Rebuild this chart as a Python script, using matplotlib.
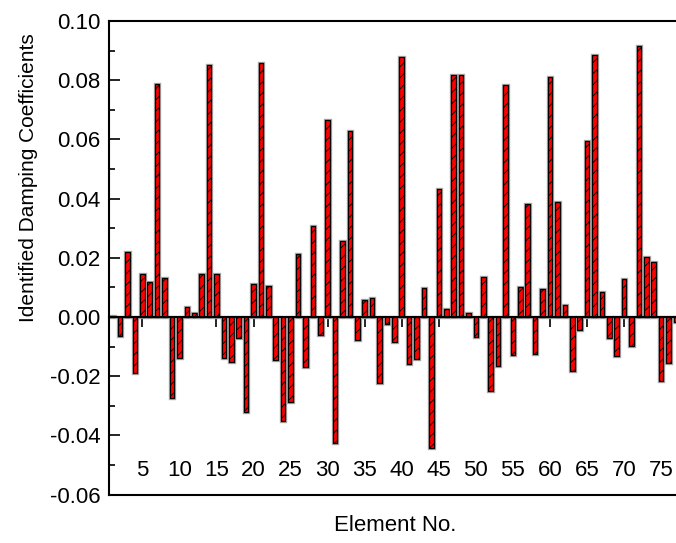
import numpy as np
import matplotlib
matplotlib.use("Agg")
from matplotlib import pyplot as plt
from matplotlib import patheffects as pe
from matplotlib.lines import Line2D
from matplotlib.ticker import MultipleLocator

plt.rcParams['font.family'] = ['Liberation Sans', 'DejaVu Sans']
plt.rcParams['hatch.linewidth'] = 0.6

# identified damping coefficient of each element
elements = np.arange(1, 78)
damping = [
    0.0004, -0.0063, 0.0219, -0.0190, 0.0146, 0.0119, 0.0787, 0.0131,
    -0.0273, -0.0137, 0.0034, 0.0015, 0.0146, 0.0850, 0.0144, -0.0140,
    -0.0151, -0.0070, -0.0320, 0.0110, 0.0858, 0.0106, -0.0145, -0.0352,
    -0.0286, 0.0212, -0.0168, 0.0309, -0.0061, 0.0666, -0.0427, 0.0258,
    0.0630, -0.0078, 0.0057, 0.0065, -0.0224, -0.0025, -0.0083, 0.0877,
    -0.0159, -0.0142, 0.0099, -0.0441, 0.0432, 0.0027, 0.0818, 0.0818,
    0.0012, -0.0068, 0.0136, -0.0249, -0.0166, 0.0785, -0.0130, 0.0103,
    0.0382, -0.0125, 0.0095, 0.0810, 0.0388, 0.0041, -0.0183, -0.0044,
    0.0596, 0.0884, 0.0083, -0.0070, -0.0132, 0.0127, -0.0097, 0.0917,
    0.0202, 0.0187, -0.0215, -0.0155, -0.0016,
]
x_ticks = [5, 10, 15, 20, 25, 30, 35, 40, 45, 50, 55, 60, 65, 70, 75]
y_ticks = [-0.06, -0.04, -0.02, 0.00, 0.02, 0.04, 0.06, 0.08, 0.10]

fig = plt.figure(figsize=(6.76, 5.43), dpi=100)
ax = fig.add_axes([0.1612, 0.0891, 0.8388, 0.8722])

bars = ax.bar(elements, damping, width=0.62, color='#ff0000',
              edgecolor='black', linewidth=0.9, hatch='///', zorder=2)
for b in bars:
    b.set_path_effects([pe.Stroke(linewidth=2.4, foreground='#a8a8a8'),
                        pe.Normal()])

ax.set_xlim(0.5, 77.0)
ax.set_ylim(-0.06, 0.10)

# x axis runs through zero, labels sit down near the bottom frame
ax.spines['bottom'].set_position(('data', 0))
ax.spines['right'].set_visible(False)
for s in ['bottom', 'top', 'left']:
    ax.spines[s].set_linewidth(1.5)
ax.spines['bottom'].set_zorder(3)
ax.add_line(Line2D([0, 1], [0, 0], transform=ax.transAxes, color='black',
                   linewidth=1.5, clip_on=False))

ax.set_xticks(x_ticks)
ax.tick_params(axis='x', direction='out', length=7, width=1.2,
               labelsize=16, pad=96)
ax.set_yticks(y_ticks)
ax.set_yticklabels(['%.2f' % v for v in y_ticks])
ax.yaxis.set_minor_locator(MultipleLocator(0.01))
ax.tick_params(axis='y', which='major', direction='in', length=8,
               width=1.2, labelsize=16, pad=6)
ax.tick_params(axis='y', which='minor', direction='in', length=4.5,
               width=1.2)

ax.set_ylabel('Identified Damping Coefficients', fontsize=15)
ax.yaxis.set_label_coords(-0.125, 0.67)
fig.text(0.584, 0.033, 'Element No.', fontsize=16, ha='center',
         va='center')

fig.savefig('out.png', dpi=100)
